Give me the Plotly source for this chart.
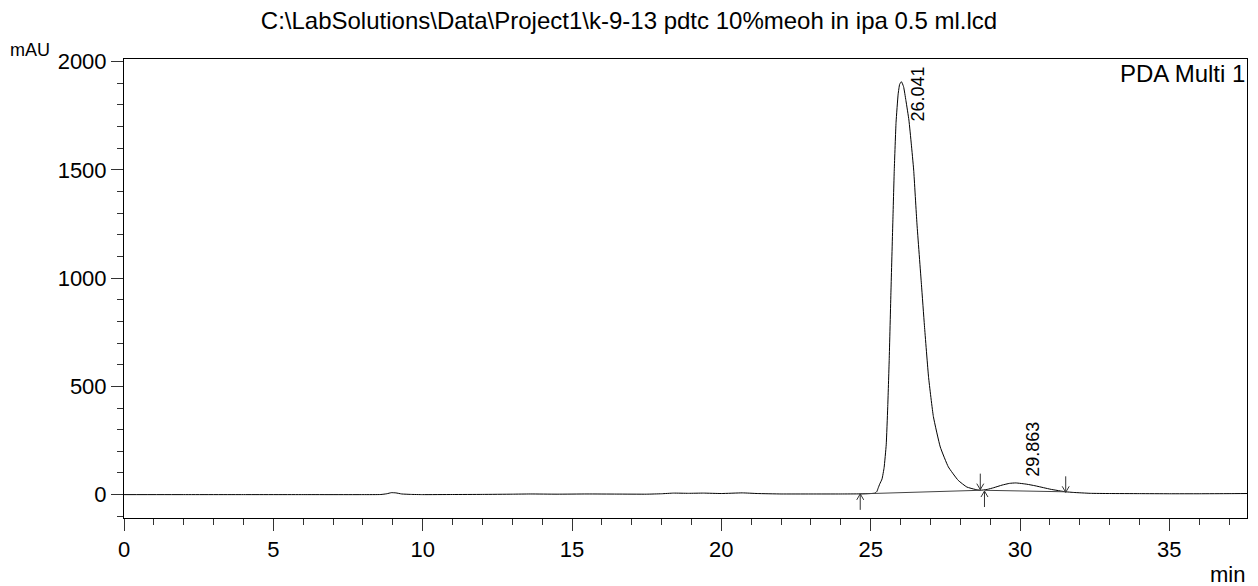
import plotly.graph_objects as go

# Chromatogram trace: retention time (min) and detector response (mAU)
time_min = [
    0.0, 2.0, 4.0, 6.0, 8.0, 8.6, 8.8, 8.95, 9.1, 9.3, 9.6, 10.0,
    11.0, 12.0, 13.0, 13.6, 14.5, 15.5, 16.5, 17.5, 18.0, 18.4, 18.9,
    19.4, 20.0, 20.7, 21.2, 22.0, 23.0, 24.0, 24.65, 25.0, 25.15,
    25.21, 25.25, 25.30, 25.38, 25.45, 25.52, 25.57, 25.62, 25.68,
    25.74, 25.79, 25.85, 25.92, 25.97, 26.03,
    26.10, 26.18, 26.28, 26.36, 26.44, 26.55, 26.70, 26.80, 26.94,
    27.10, 27.33, 27.60, 27.93, 28.22, 28.50, 28.67,
    28.90, 29.12, 29.40, 29.65, 29.86, 30.23, 30.50, 30.79, 31.05,
    31.35, 31.53, 31.80, 32.35, 33.0, 34.0, 35.0, 36.0, 37.0, 37.6,
]
signal_mau = [
    0, 0, 0, 0, 0, 0.5, 4, 9, 8, 3, 1, 0,
    0.5, 1, 2, 3, 2, 3, 2.5, 2, 4, 7, 6,
    7, 5, 8, 5, 3, 3, 3, 3.5, 5, 7,
    15, 30, 48, 72, 125, 230, 400, 620, 945,
    1250, 1500, 1720, 1850, 1895, 1907,
    1885, 1820, 1730, 1620, 1499, 1250, 970, 780, 540,
    360, 220, 128, 66, 35, 24, 20,
    24, 32, 44, 52, 54, 48, 41, 32, 24,
    17, 13, 10, 6, 5, 4.5, 4, 4, 4.5, 5,
]

# Integration baselines (start/end times and levels)
baseline_t = [[24.65, 28.67], [28.81, 31.53]]
baseline_v = [[3.5, 20], [20, 13]]

# Peak start/end markers
marker_up_t = [24.65, 28.81]
marker_up_v = [3.5, 16.6]
marker_down_t = [28.67, 31.53]
marker_down_v = [23, 10.6]

# Peak retention-time labels
peak_rt = [26.041, 29.863]
peak_height = [1907, 54]
peak_label_shift = [(16, -12), (17, 34)]

title_text = "C:\\LabSolutions\\Data\\Project1\\k-9-13 pdtc 10%meoh in ipa 0.5 ml.lcd"
FONT = "Liberation Sans, Arial, sans-serif"

fig = go.Figure()

fig.add_trace(go.Scatter(
    x=time_min, y=signal_mau, mode="lines",
    line=dict(color="black", width=1, shape="spline", smoothing=0.4),
    hoverinfo="skip", showlegend=False,
))

for bt, bv in zip(baseline_t, baseline_v):
    fig.add_trace(go.Scatter(
        x=bt, y=bv, mode="lines",
        line=dict(color="#444444", width=1),
        hoverinfo="skip", showlegend=False,
    ))

# Arrow glyphs drawn in pixel units anchored at data positions
up_path = "M0,0 L0,-16 M-3.5,-6 L0,0 L3.5,-6"
down_path = "M0,0 L0,16 M-3.5,6 L0,0 L3.5,6"
for t, v in zip(marker_up_t, marker_up_v):
    fig.add_shape(type="path", xsizemode="pixel", ysizemode="pixel",
                  xanchor=t, yanchor=v, xref="x", yref="y", path=up_path,
                  line=dict(color="#333333", width=1))
for t, v in zip(marker_down_t, marker_down_v):
    fig.add_shape(type="path", xsizemode="pixel", ysizemode="pixel",
                  xanchor=t, yanchor=v, xref="x", yref="y", path=down_path,
                  line=dict(color="#333333", width=1))

for rt, h, (dx, dy) in zip(peak_rt, peak_height, peak_label_shift):
    fig.add_annotation(
        x=rt, y=h, text=f"{rt:.3f}", showarrow=False, textangle=-90,
        xanchor="center", yanchor="middle", xshift=dx, yshift=dy,
        font=dict(family=FONT, size=18, color="black"),
    )

fig.add_annotation(x=0, y=1, xref="paper", yref="paper", text="mAU",
                   showarrow=False, xanchor="right", yanchor="bottom",
                   xshift=-72, yshift=-3,
                   font=dict(family=FONT, size=18, color="black"))
fig.add_annotation(x=1, y=0, xref="paper", yref="paper", text="min",
                   showarrow=False, xanchor="right", yanchor="top",
                   yshift=-42,
                   font=dict(family=FONT, size=22, color="black"))
fig.add_annotation(x=1, y=1, xref="paper", yref="paper", text="PDA Multi 1",
                   showarrow=False, xanchor="right", yanchor="top",
                   xshift=0, yshift=1,
                   font=dict(family=FONT, size=24, color="black"))

fig.update_layout(
    width=1258, height=586,
    margin=dict(l=124, r=11, t=59, b=68),
    paper_bgcolor="white", plot_bgcolor="white",
    font=dict(family=FONT, size=22, color="black"),
    title=dict(text=title_text, x=0.5, xref="container", xanchor="center",
               y=0.965, yanchor="middle",
               font=dict(family=FONT, size=24, color="black")),
    showlegend=False,
)
fig.update_xaxes(
    range=[0, 37.6], tickmode="linear", tick0=0, dtick=5,
    ticks="outside", ticklen=12, tickwidth=1, tickcolor="#333333",
    minor=dict(tickmode="linear", tick0=0, dtick=1, ticks="outside",
               ticklen=6, tickwidth=1, tickcolor="#333333", showgrid=False),
    showline=True, linecolor="black", linewidth=1, mirror=True,
    showgrid=False, zeroline=False,
    tickfont=dict(family=FONT, size=22, color="black"),
)
fig.update_yaxes(
    range=[-108, 2012], tickmode="linear", tick0=0, dtick=500,
    ticks="outside", ticklen=12, tickwidth=1, tickcolor="#333333",
    minor=dict(tickmode="linear", tick0=0, dtick=100, ticks="outside",
               ticklen=6, tickwidth=1, tickcolor="#333333", showgrid=False),
    showline=True, linecolor="black", linewidth=1, mirror=True,
    showgrid=False, zeroline=False,
    tickfont=dict(family=FONT, size=22, color="black"),
)

fig.write_html("out.html")
